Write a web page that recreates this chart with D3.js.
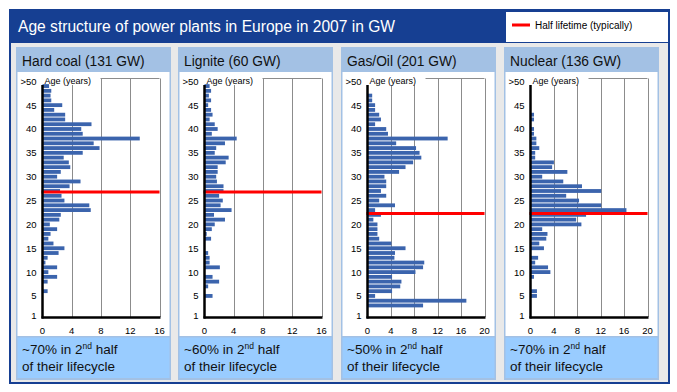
<!DOCTYPE html>
<html>
<head>
<meta charset="utf-8">
<script src="https://cdn.jsdelivr.net/npm/d3@7"></script>
<style>
  body { margin: 0; background: #fff; }
  svg { display: block; font-family: "Liberation Sans", Arial, sans-serif; }
</style>
</head>
<body>
<svg id="chart" width="677" height="392"></svg>
<script>
// ages 1 .. 50 (50 is shown as ">50"), values in GW
var ages = d3.range(1, 51);
var yTickAges = [1, 5, 10, 15, 20, 25, 30, 35, 40, 45, 50];

var hardCoal = [0, 0, 0, 0, 0, 0.7, 0, 0.7, 2.0, 0.8,
  2.0, 0.4, 0.7, 2.2, 3.0, 1.5, 0.8, 1.1, 2.0, 1.0,
  2.3, 2.5, 6.6, 6.4, 3.0, 2.6, 2.4, 3.7, 5.2, 2.0,
  2.5, 3.8, 3.6, 2.9, 5.5, 7.8, 7.0, 13.3, 5.5, 5.3,
  6.7, 3.1, 3.1, 1.6, 2.7, 1.2, 1.1, 1.2, 0.9, 0];

var lignite = [0, 0, 0, 0, 1.1, 0, 0.5, 2.0, 1.1, 0,
  2.1, 0.7, 0.7, 0.5, 0, 0, 0.9, 0.3, 1.0, 1.4,
  2.8, 1.3, 3.7, 2.2, 2.5, 2.0, 2.6, 2.6, 1.7, 1.6,
  1.8, 1.8, 2.9, 3.3, 1.4, 1.6, 2.8, 4.4, 1.0, 1.8,
  1.4, 0.7, 1.1, 0.9, 0.5, 0.9, 0.6, 0.9, 0.7, 0];

var gasOil = [0, 0, 9.5, 16.9, 1.3, 4.2, 5.6, 5.8, 4.2, 8.2,
  9.5, 9.7, 4.6, 4.7, 6.5, 4.1, 2.0, 1.7, 1.7, 1.7,
  1.0, 2.3, 1.3, 4.7, 2.0, 3.2, 2.3, 3.2, 3.2, 2.9,
  5.4, 6.5, 7.8, 9.2, 8.9, 8.3, 4.9, 13.7, 3.5, 3.2,
  1.3, 2.3, 2.0, 1.3, 1.3, 0.8, 0.8, 0, 0, 0];

var nuclear = [0, 0, 0, 0, 1.1, 1.1, 0, 0, 0.6, 3.4,
  3.0, 0.8, 1.3, 0, 2.3, 1.5, 2.7, 2.9, 2.0, 8.7,
  7.8, 9.5, 16.4, 12.1, 8.3, 6.1, 12.1, 8.8, 5.6, 2.0,
  6.3, 3.7, 4.0, 0.8, 0.8, 1.5, 1.0, 1.0, 0.6, 0.6,
  0, 0.6, 0.6, 0, 0, 0, 0, 0, 0, 0];

var panelTitles = ["Hard coal (131 GW)", "Lignite (60 GW)", "Gas/Oil (201 GW)", "Nuclear (136 GW)"];
var panelShares = ["~70%", "~60%", "~50%", "~70%"];
var halfLife = [26.8, 26.8, 22.3, 22.3];
var xMax = [16, 16, 20, 20];
var xTicks = [[0, 4, 8, 12, 16], [0, 4, 8, 12, 16], [0, 4, 8, 12, 16, 20], [0, 4, 8, 12, 16, 20]];
var series = [hardCoal, lignite, gasOil, nuclear];

var svg = d3.select("#chart");

// frame + title bar
svg.append("rect")
  .attr("x", 10).attr("y", 10).attr("width", 659).attr("height", 373)
  .attr("fill", "#e9e9e9").attr("stroke", "#163f92").attr("stroke-width", 2);
svg.append("rect")
  .attr("x", 10).attr("y", 10).attr("width", 659).attr("height", 33)
  .attr("fill", "#163f92");
svg.append("text")
  .attr("x", 18).attr("y", 32)
  .attr("fill", "#fff")
  .style("font-size", "15.6px")
  .text("Age structure of power plants in Europe in 2007 in GW");

// legend
svg.append("rect")
  .attr("x", 506).attr("y", 12).attr("width", 162).attr("height", 30)
  .attr("fill", "#fff");
svg.append("line")
  .attr("x1", 512).attr("x2", 530).attr("y1", 25).attr("y2", 25)
  .attr("stroke", "#ff0000").attr("stroke-width", 3);
svg.append("text")
  .attr("x", 535).attr("y", 28.5)
  .style("font-size", "10px")
  .text("Half lifetime (typically)");

var y = d3.scaleBand()
  .domain(ages.slice().reverse())
  .range([78.9, 317.4])
  .paddingInner(0.2)
  .paddingOuter(0.1);

// linear scale through band centres, used for the red line
var yLin = d3.scaleLinear()
  .domain([1, 50])
  .range([y(1) + y.bandwidth() / 2, y(50) + y.bandwidth() / 2]);

var panelLeft = [16, 178, 341, 504];

series.forEach(function(data, i) {
  var left = panelLeft[i];
  var g = svg.append("g");

  g.append("rect")
    .attr("x", left).attr("y", 47).attr("width", 155).attr("height", 333)
    .attr("fill", "#a3c1e4");
  g.append("rect")
    .attr("x", left + 1.5).attr("y", 72).attr("width", 152).attr("height", 264)
    .attr("fill", "#fff");
  g.append("rect")
    .attr("x", left + 1.5).attr("y", 337.5).attr("width", 152).attr("height", 40.5)
    .attr("fill", "#99ccff");

  g.append("text")
    .attr("x", left + 6).attr("y", 66)
    .style("font-size", "13.8px")
    .attr("fill", "#111")
    .text(panelTitles[i]);

  var foot = g.append("text")
    .style("font-size", "13.5px")
    .attr("fill", "#111");
  var l1 = foot.append("tspan").attr("x", left + 6).attr("y", 354);
  l1.append("tspan").text(panelShares[i] + " in 2");
  l1.append("tspan").attr("dy", -5).style("font-size", "8.5px").text("nd");
  l1.append("tspan").attr("dy", 5).text(" half");
  foot.append("tspan").attr("x", left + 6).attr("y", 371).text("of their lifecycle");

  var x = d3.scaleLinear()
    .domain([0, xMax[i]])
    .range([left + 26.5, left + 143.5]);

  // grid
  g.append("line")
    .attr("x1", x(0)).attr("x2", x(xMax[i]))
    .attr("y1", 78.5).attr("y2", 78.5)
    .attr("stroke", "#8c8c8c");
  g.selectAll(".grid")
    .data(xTicks[i].slice(1))
    .enter().append("line")
    .attr("class", "grid")
    .attr("x1", function(d) { return Math.round(x(d)) + 0.5; })
    .attr("x2", function(d) { return Math.round(x(d)) + 0.5; })
    .attr("y1", 78.5).attr("y2", 317)
    .attr("stroke", "#8c8c8c");

  // Age label box covers the top of the grid
  g.append("rect")
    .attr("x", x(0) - 2).attr("y", 74).attr("width", 60).attr("height", 11)
    .attr("fill", "#fff");
  g.append("text")
    .attr("x", x(0) + 2).attr("y", 84)
    .style("font-size", "9px")
    .text("Age (years)");

  // bars
  g.selectAll(".bar")
    .data(ages.filter(function(a) { return data[a - 1] > 0; }))
    .enter().append("rect")
    .attr("class", "bar")
    .attr("x", x(0))
    .attr("y", function(a) { return y(a); })
    .attr("width", function(a) { return x(data[a - 1]) - x(0); })
    .attr("height", y.bandwidth())
    .attr("fill", "#3b64ad");

  // half lifetime line
  g.append("line")
    .attr("x1", x(0) - 1).attr("x2", x(xMax[i]))
    .attr("y1", yLin(halfLife[i])).attr("y2", yLin(halfLife[i]))
    .attr("stroke", "#ff0000").attr("stroke-width", 3);

  // axes
  g.append("line")
    .attr("x1", x(0)).attr("x2", x(0))
    .attr("y1", 85).attr("y2", 318.5)
    .attr("stroke", "#000").attr("stroke-width", 2.5);
  g.append("line")
    .attr("x1", x(0) - 1).attr("x2", x(xMax[i]) + 1)
    .attr("y1", 317.5).attr("y2", 317.5)
    .attr("stroke", "#000").attr("stroke-width", 2.5);

  g.selectAll(".ylab")
    .data(yTickAges)
    .enter().append("text")
    .attr("class", "ylab")
    .attr("x", x(0) - 6)
    .attr("y", function(a) { return yLin(a) + 3.5; })
    .attr("text-anchor", "end")
    .style("font-size", "9.5px")
    .text(function(a) { return a === 50 ? ">50" : a; });

  g.selectAll(".xlab")
    .data(xTicks[i])
    .enter().append("text")
    .attr("class", "xlab")
    .attr("x", function(d) { return x(d); })
    .attr("y", 334)
    .attr("text-anchor", "middle")
    .style("font-size", "9.5px")
    .text(function(d) { return d; });
});
</script>
</body>
</html>
